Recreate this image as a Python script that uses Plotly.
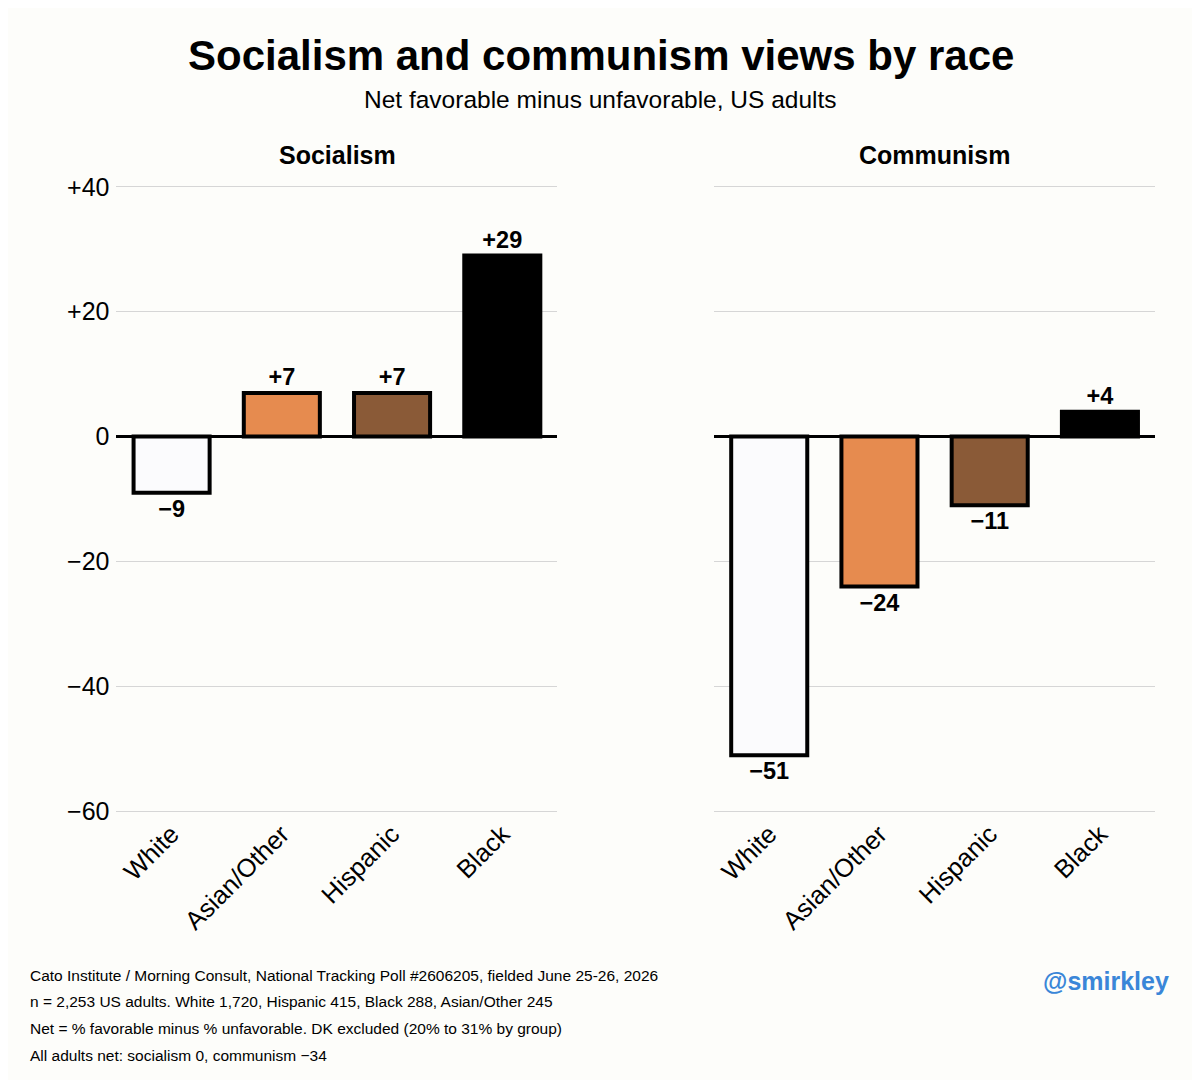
import plotly.graph_objects as go

groups = ["White", "Asian/Other", "Hispanic", "Black"]
socialism = [-9, 7, 7, 29]
communism = [-51, -24, -11, 4]
colors = ["#fbfbfd", "#e68b4f", "#8a5a37", "#000000"]
yticks = [40, 20, 0, -20, -40, -60]
ytick_text = ["+40", "+20", "0", "−20", "−40", "−60"]

def fmt(v):
    return f"+{v}" if v > 0 else f"−{abs(v)}"

W, H = 1200, 1080
def px(x): return (x - 10) / 0.9956 / W
def py(y): return 1 - (y - 19.3) / 0.977 / H

fig = go.Figure()
for vals, xa, ya in [(socialism, "x", "y"), (communism, "x2", "y2")]:
    fig.add_trace(go.Bar(
        x=groups, y=vals, xaxis=xa, yaxis=ya,
        marker=dict(color=colors, line=dict(color="black", width=4)),
        width=0.69, text=[fmt(v) for v in vals], textposition="outside",
        textfont=dict(size=23.5, color="black", family="Liberation Sans"),
        texttemplate="<b>%{text}</b>", cliponaxis=False, showlegend=False,
    ))

bg = "#fdfdfa"
common_y = dict(range=[-60.3, 40.3], domain=[py(811.9), py(184.1)], tickvals=yticks,
                showgrid=True, gridcolor="#d6d6d6", gridwidth=1,
                zeroline=True, zerolinecolor="black", zerolinewidth=3,
                tickfont=dict(size=25, color="black"), fixedrange=True)
common_x = dict(tickangle=-45, tickfont=dict(size=25.5, color="black"),
                showline=False, ticks="")
fig.update_layout(
    width=W, height=H, paper_bgcolor=bg, plot_bgcolor=bg,
    margin=dict(l=0, r=0, t=0, b=0),
    font=dict(family="Liberation Sans", color="black"),
    xaxis=dict(domain=[px(118), px(557)], **common_x),
    xaxis2=dict(domain=[px(713), px(1152)], **common_x),
    yaxis=dict(ticktext=ytick_text, showticklabels=True, ticklabelstandoff=6, **common_y),
    yaxis2=dict(anchor="x2", showticklabels=False, **common_y),
)

ann = [
    dict(text="<b>Socialism and communism views by race</b>", x=px(600), y=py(55), size=42),
    dict(text="Net favorable minus unfavorable, US adults", x=px(600), y=py(99), size=24.5),
    dict(text="<b>Socialism</b>", x=px(338), y=py(154), size=25),
    dict(text="<b>Communism</b>", x=px(932), y=py(154), size=25),
]
for a in ann:
    fig.add_annotation(text=a["text"], x=a["x"], y=a["y"], xref="paper", yref="paper",
                       showarrow=False, xanchor="center", yanchor="middle",
                       font=dict(size=a["size"], color="black"))

notes = [
    "Cato Institute / Morning Consult, National Tracking Poll #2606205, fielded June 25-26, 2026",
    "n = 2,253 US adults. White 1,720, Hispanic 415, Black 288, Asian/Other 245",
    "Net = % favorable minus % unfavorable. DK excluded (20% to 31% by group)",
    "All adults net: socialism 0, communism −34",
]
for i, n in enumerate(notes):
    fig.add_annotation(text=n, x=px(30), y=py(974 + i * 26.5), xref="paper", yref="paper",
                       showarrow=False, xanchor="left", yanchor="middle",
                       font=dict(size=15.5, color="black"))
fig.add_annotation(text="<b>@smirkley</b>", x=px(1168), y=py(980), xref="paper", yref="paper",
                   showarrow=False, xanchor="right", yanchor="middle",
                   font=dict(size=25, color="#3a86d8"))

fig.write_html("out.html")
